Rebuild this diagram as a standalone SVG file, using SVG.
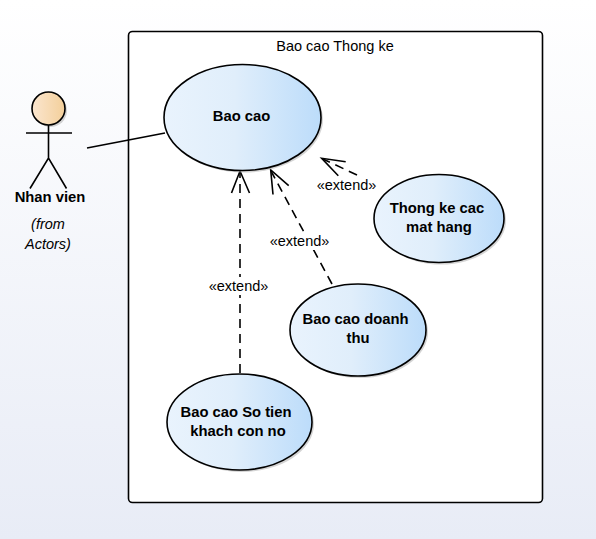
<svg xmlns="http://www.w3.org/2000/svg" width="596" height="539" viewBox="0 0 596 539">
<defs>
<linearGradient id="bg" x1="0" y1="0" x2="0" y2="1"><stop offset="0" stop-color="#ffffff"/><stop offset="1" stop-color="#e8ecf6"/></linearGradient>
<linearGradient id="uc" x1="0" y1="0" x2="1" y2="0"><stop offset="0" stop-color="#e9f3fd"/><stop offset="0.45" stop-color="#e0eefb"/><stop offset="1" stop-color="#bcdcfa"/></linearGradient>
<linearGradient id="head" x1="0" y1="0" x2="1" y2="0"><stop offset="0" stop-color="#fbe6cf"/><stop offset="1" stop-color="#f3cf9a"/></linearGradient>
<style>
text{font-family:"Liberation Sans",Arial,sans-serif;font-size:14.5px;fill:#000;text-anchor:middle}
.b{font-weight:bold;font-size:14.8px}
.i{font-style:italic}
.uc{fill:url(#uc);stroke:#000;stroke-width:1.6}
.sh{fill:#b8b8b8;opacity:.6}
.l{fill:none;stroke:#000;stroke-width:1.6}
.d{stroke-dasharray:9 6}
.lb{fill:#fff}
</style>
</defs>
<rect width="596" height="539" fill="url(#bg)"/>
<g id="boundary">
<rect x="128.500" y="31.500" width="414" height="471" rx="4" fill="#fff" stroke="#000" stroke-width="1.600"/>
<text x="335" y="51">Bao cao Thong ke</text>
</g>
<g id="connectors">
<path class="l" d="M87 148L165 133"/>
<path class="l d" d="M240 373V172"/>
<path class="l" d="M231.500 193L240 171L249.500 193"/>
<path class="l d" d="M332 284L271.500 172"/>
<path class="l" d="M273 194.500L270.700 170L288.700 185.700"/>
<path class="l d" d="M357 175L323 159"/>
<path class="l" d="M345.700 161.700L321.700 158.300L338.300 175.700"/>
<rect class="lb" x="270" y="232" width="60" height="18"/>
<rect class="lb" x="208" y="277" width="61" height="18"/>
<text x="346.500" y="190">«extend»</text>
<text x="299.500" y="246">«extend»</text>
<text x="238.500" y="291">«extend»</text>
</g>
<g id="actor">
<circle class="sh" cx="50.500" cy="110.500" r="16.500"/>
<circle cx="48.500" cy="108.500" r="16.500" fill="url(#head)" stroke="#000" stroke-width="1.600"/>
<path class="l" d="M48.500 125V158M26 133H72M30 188.500L48.500 158L66.500 188.500"/>
<text class="b" x="50" y="202">Nhan vien</text>
<text class="i" x="48" y="229">(from</text>
<text class="i" x="48" y="249">Actors)</text>
</g>
<g id="uc-baocao">
<ellipse class="sh" cx="244" cy="119.500" rx="79" ry="53"/>
<ellipse class="uc" cx="242.500" cy="117.500" rx="78.500" ry="53"/>
<text class="b" x="241.500" y="121">Bao cao</text>
</g>
<g id="uc-thongke">
<ellipse class="sh" cx="441" cy="220.500" rx="65" ry="44"/>
<ellipse class="uc" cx="439" cy="218.500" rx="65" ry="44"/>
<text class="b" x="437" y="213">Thong ke cac</text>
<text class="b" x="439" y="232">mat hang</text>
</g>
<g id="uc-doanhthu">
<ellipse class="sh" cx="360" cy="332" rx="68" ry="46"/>
<ellipse class="uc" cx="358" cy="330" rx="68" ry="46"/>
<text class="b" x="355.500" y="324">Bao cao doanh</text>
<text class="b" x="358" y="343">thu</text>
</g>
<g id="uc-sotien">
<ellipse class="sh" cx="241.500" cy="424" rx="72.500" ry="48"/>
<ellipse class="uc" cx="239.500" cy="422" rx="72.500" ry="48"/>
<text class="b" x="236" y="417">Bao cao So tien</text>
<text class="b" x="238" y="436">khach con no</text>
</g>
</svg>
